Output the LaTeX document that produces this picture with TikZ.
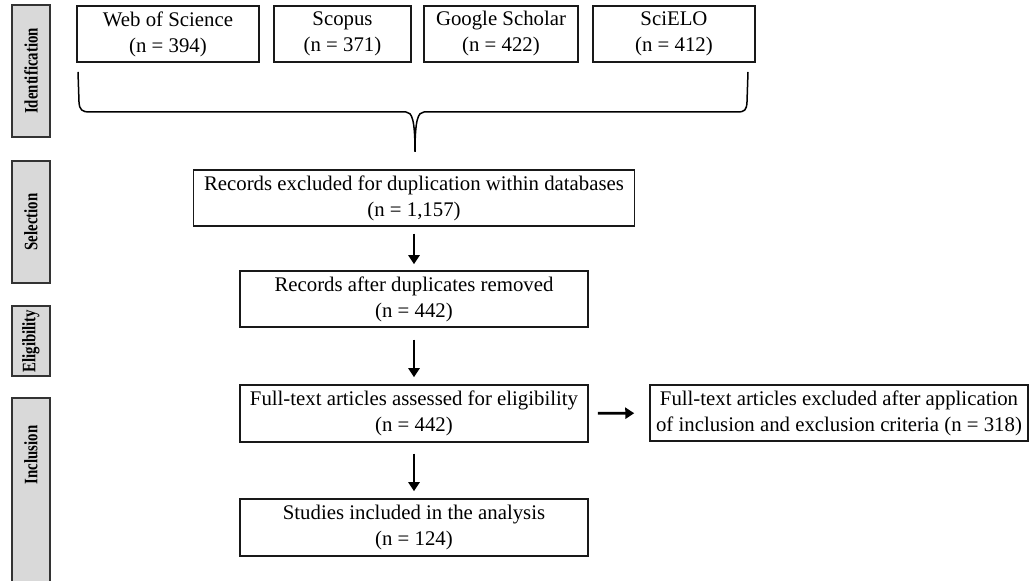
\documentclass[tikz,border=0pt]{standalone}
\usepackage{fontspec}
\setmainfont{Liberation Serif}
\usetikzlibrary{arrows.meta}
\begin{document}
\begin{tikzpicture}[x=.5pt,y=-.5pt,font=\fontsize{10.4}{13}\selectfont]
\tikzset{box/.style={draw=black!90,line width=.75pt,align=center,inner sep=0pt,minimum height=28pt},
 phase/.style={draw=black!80,fill=black!15,line width=.8pt},
 arr/.style={line width=1.4pt,-{Triangle[width=5.5pt,length=4.5pt]}}}
\useasboundingbox (0,0) rectangle (1030,581);
\clip (0,0) rectangle (1030,581);
\foreach \y/\yb in {5/137,161/283,306/376,398/600}{\draw[phase] (12,\y) rectangle (50,\yb);}
\foreach \nm/\y/\t in {ident/71/Identification,sel/222/Selection,elig/341/Eligibility,incl/455/Inclusion}
 {\node[rotate=90,font=\fontsize{9.5}{9.5}\selectfont\bfseries] (\nm) at (31,\y) {\scalebox{.78}[1]{\t}};}
\foreach \nm/\x/\w/\db/\num in {wos/168/182/Web of Science/394,scopus/342.5/137/Scopus/371,gs/501/154/Google Scholar/422,scielo/674/162/SciELO/412}
 {\node[box,minimum width=\w*.5pt] (\nm) at (\x,34) {\db\\(n = \num)};}
\draw[line width=.75pt] (78,72) -- (79,102) .. controls (79.5,110) and (82,112) .. (90,112) -- (406,112)
 .. controls (412,112) and (415,120) .. (415,152) .. controls (415,120) and (418,112) .. (424,112)
 -- (737,112) .. controls (745,112) and (746.5,110) .. (747,102) -- (748,72);
\node[box,minimum width=220.5pt] (excl) at (414,198) {Records excluded for duplication within databases\\(n = 1,157)};
\node[box,minimum width=174pt] (after) at (414,299) {Records after duplicates removed\\(n = 442)};
\node[box,minimum width=174pt,minimum height=28.5pt] (assess) at (414,413.5) {Full-text articles assessed for eligibility\\(n = 442)};
\node[box,minimum width=189pt] (out) at (839,413) {Full-text articles excluded after application\\of inclusion and exclusion criteria (n = 318)};
\node[box,minimum width=174pt,minimum height=28.5pt] (incl2) at (414,527.5) {Studies included in the analysis\\(n = 124)};
\draw[arr,shorten <=3.5pt,shorten >=3pt] (excl) -- (after);
\draw[arr,shorten <=6pt,shorten >=3.5pt] (after) -- (assess);
\draw[arr,shorten <=5.5pt,shorten >=3.5pt] (assess) -- (incl2);
\draw[arr,shorten <=4.5pt,shorten >=7.5pt] (assess) -- (out);
\end{tikzpicture}
\end{document}
